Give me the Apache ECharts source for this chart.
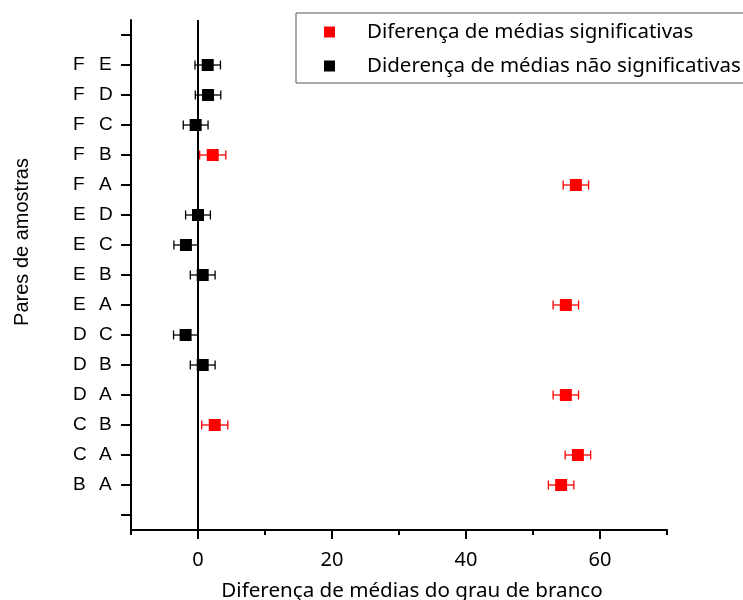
<!DOCTYPE html>
<html>
<head>
<meta charset="utf-8">
<script src="https://cdn.jsdelivr.net/npm/echarts@6/dist/echarts.min.js"></script>
<style>
  html, body { margin: 0; padding: 0; background: #fff; }
  #chart { width: 743px; height: 600px; }
</style>
</head>
<body>
<div id="chart"></div>
<script>
// Sample pairs, listed bottom to top
const pairs = ["B A", "C A", "C B", "D A", "D B", "D C", "E A", "E B", "E C", "E D", "F A", "F B", "F C", "F D", "F E"];
// Mean difference of whiteness for each pair
const means = [54.2, 56.7, 2.5, 54.9, 0.7, -1.85, 54.9, 0.7, -1.8, 0.0, 56.4, 2.2, -0.35, 1.5, 1.45];
// Half-width of the error bar for each pair
const errors = [1.9, 1.9, 1.95, 1.9, 1.85, 1.8, 1.9, 1.85, 1.8, 1.85, 1.9, 1.95, 1.85, 1.9, 1.9];
// 1 = significant difference, 0 = not significant
const significant = [1, 1, 1, 1, 0, 0, 1, 0, 0, 0, 1, 1, 0, 0, 0];

const seriesNames = ["Diferença de médias significativas", "Diderença de médias não significativas"];
const seriesColors = ["#ff0000", "#000000"];

const xLabelTicks = [0, 20, 40, 60];
const xMinorTicks = [-10, 10, 30, 50, 70];

// Category axis: one empty slot below and above the pairs
const categories = [" "].concat(pairs, ["  "]);

function pointsFor(flag) {
  const pts = [], bars = [];
  pairs.forEach((p, i) => {
    if (significant[i] === flag) {
      pts.push([means[i], i + 1]);
      bars.push([means[i] - errors[i], means[i] + errors[i], i + 1]);
    }
  });
  return { pts, bars };
}

function errorBarSeries(bars, color) {
  return {
    type: 'custom',
    data: bars,
    encode: { x: [0, 1], y: 2 },
    z: 2,
    silent: true,
    renderItem(params, api) {
      const y = api.value(2);
      const lo = api.coord([api.value(0), y]);
      const hi = api.coord([api.value(1), y]);
      const h = 4.5;
      const style = { stroke: color, lineWidth: 1.3 };
      return {
        type: 'group',
        children: [
          { type: 'line', shape: { x1: lo[0], y1: lo[1], x2: hi[0], y2: hi[1] }, style },
          { type: 'line', shape: { x1: lo[0], y1: lo[1] - h, x2: lo[0], y2: lo[1] + h }, style },
          { type: 'line', shape: { x1: hi[0], y1: hi[1] - h, x2: hi[0], y2: hi[1] + h }, style }
        ]
      };
    }
  };
}

const sig = pointsFor(1);
const nonSig = pointsFor(0);

const labelFont = 'Liberation Sans, Arial, sans-serif';
const textFont = 'Noto Sans, Liberation Sans, sans-serif';

const chart = echarts.init(document.getElementById('chart'), null, { renderer: 'canvas' });

chart.setOption({
  animation: false,
  backgroundColor: '#fff',
  grid: { left: 131, right: 76, top: 20, bottom: 70, containLabel: false, outerBoundsMode: 'none' },
  legend: {
    data: seriesNames,
    orient: 'vertical',
    left: 296,
    top: 13,
    selectedMode: false,
    icon: 'rect',
    itemWidth: 11,
    itemHeight: 11,
    itemGap: 12,
    padding: [8, 10, 6, 28],
    borderColor: '#555',
    borderWidth: 1,
    itemStyle: { opacity: 1 },
    textStyle: {
      fontFamily: textFont,
      fontSize: 20.5,
      color: '#000',
      lineHeight: 22,
      padding: [0, 0, 0, 27]
    }
  },
  xAxis: [
    {
      type: 'value',
      min: -10,
      max: 70,
      name: 'Diferença de médias do grau de branco',
      nameLocation: 'middle',
      nameGap: 51,
      nameTextStyle: { fontFamily: textFont, fontSize: 20.6, color: '#000', padding: [0, 0, 0, 26] },
      axisLine: { show: true, onZero: false, lineStyle: { color: '#000', width: 2 } },
      axisTick: { show: true, customValues: xLabelTicks, length: 9, lineStyle: { color: '#000', width: 2 } },
      axisLabel: { customValues: xLabelTicks, margin: 20, fontFamily: textFont, fontSize: 20, color: '#000' },
      splitLine: { show: false }
    },
    {
      type: 'value',
      min: -10,
      max: 70,
      position: 'bottom',
      axisLine: { show: false, onZero: false },
      axisTick: { show: true, customValues: xMinorTicks, length: 5, lineStyle: { color: '#000', width: 2 } },
      axisLabel: { show: false },
      splitLine: { show: false }
    }
  ],
  yAxis: {
    type: 'category',
    data: categories,
    boundaryGap: true,
    axisLine: { show: true, onZero: false, lineStyle: { color: '#000', width: 2 } },
    axisTick: { show: true, alignWithLabel: true, interval: 0, length: 10, lineStyle: { color: '#000', width: 2 } },
    axisLabel: {
      interval: 0,
      margin: 18,
      formatter(v) {
        const parts = v.trim().split(' ');
        if (parts.length < 2) return '';
        return '{l|' + parts[0] + '}{r|' + parts[1] + '}';
      },
      rich: {
        l: { width: 26, align: 'left', fontFamily: labelFont, fontSize: 19, color: '#000' },
        r: { width: 14, align: 'left', fontFamily: labelFont, fontSize: 19, color: '#000' }
      }
    },
    splitLine: { show: false }
  },
  graphic: [
    {
      type: 'text',
      x: 22,
      y: 242,
      rotation: Math.PI / 2,
      style: {
        text: 'Pares de amostras',
        align: 'center',
        verticalAlign: 'middle',
        font: '20px Liberation Sans, Arial, sans-serif',
        fill: '#000'
      }
    }
  ],
  series: [
    errorBarSeries(sig.bars, seriesColors[0]),
    errorBarSeries(nonSig.bars, seriesColors[1]),
    {
      name: seriesNames[0],
      type: 'scatter',
      symbol: 'rect',
      symbolSize: 12,
      z: 3,
      itemStyle: { color: seriesColors[0], opacity: 1 },
      data: sig.pts
    },
    {
      name: seriesNames[1],
      type: 'scatter',
      symbol: 'rect',
      symbolSize: 12,
      z: 3,
      itemStyle: { color: seriesColors[1], opacity: 1 },
      data: nonSig.pts,
      markLine: {
        silent: true,
        symbol: ['none', 'none'],
        label: { show: false },
        lineStyle: { color: '#000', width: 2, type: 'solid', opacity: 1 },
        data: [{ xAxis: 0 }]
      }
    }
  ]
});
</script>
</body>
</html>
